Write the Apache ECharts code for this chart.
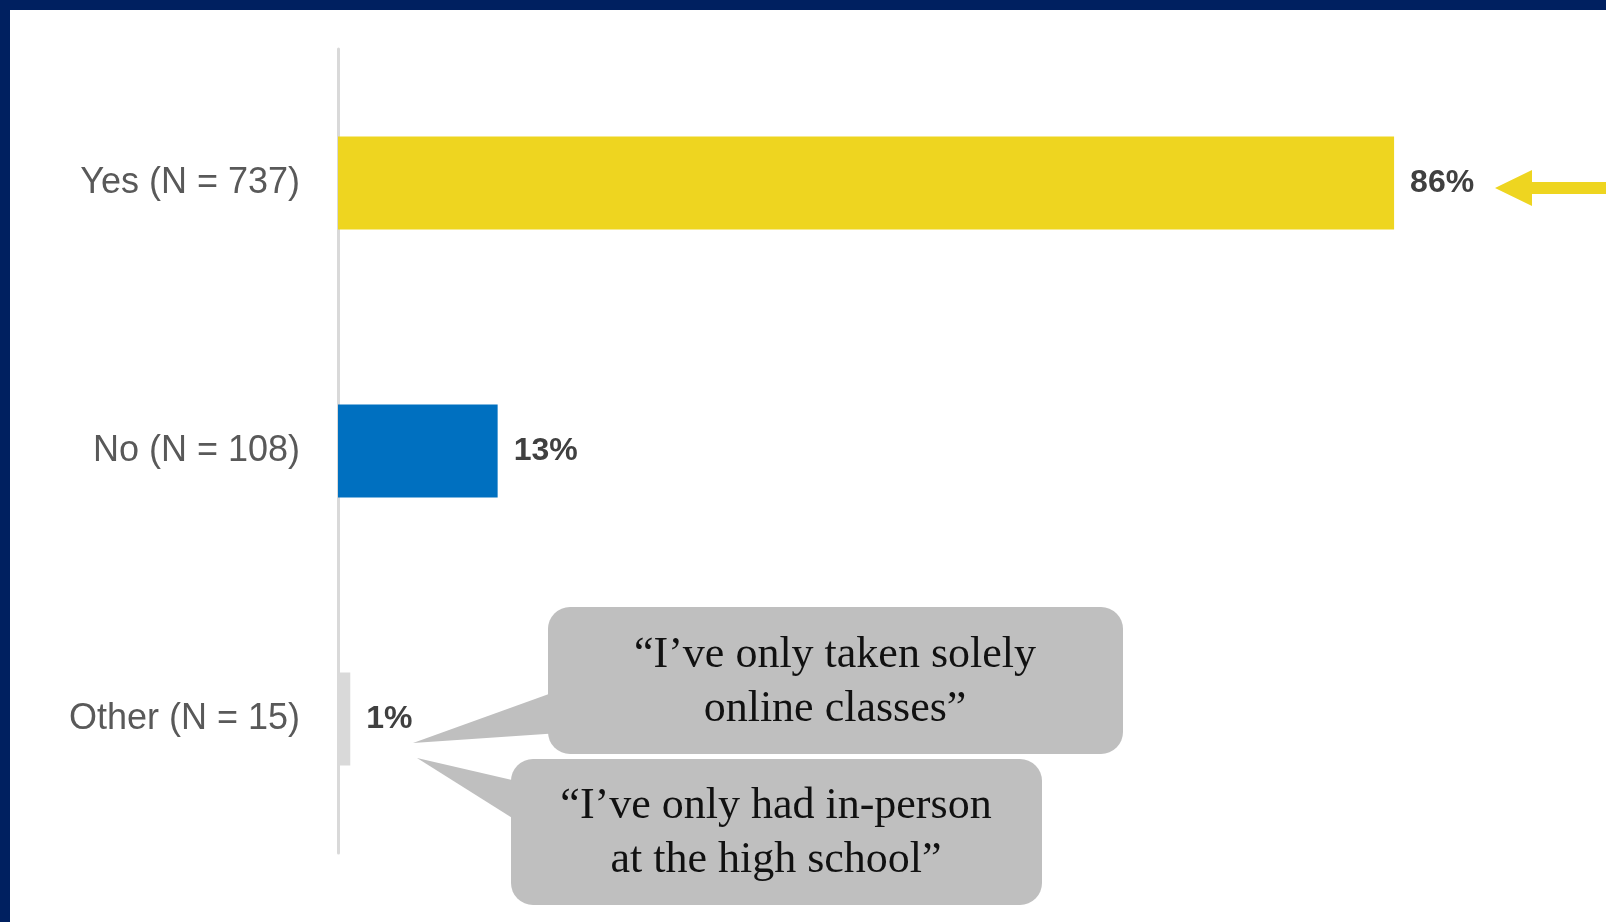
<!DOCTYPE html>
<html>
<head>
<meta charset="utf-8">
<script src="https://cdn.jsdelivr.net/npm/echarts@6/dist/echarts.min.js"></script>
<style>
  html, body { margin: 0; padding: 0; background: #ffffff; }
  #chart { width: 1606px; height: 922px; }
</style>
</head>
<body>
<div id="chart"></div>
<script>
// ---- data ----
const categories = ['Yes (N = 737)', 'No (N = 108)', 'Other (N = 15)'];
const shares = [86, 13, 1];
const quoteOnline = ['\u201CI\u2019ve only taken solely', 'online classes\u201D'];
const quoteInPerson = ['\u201CI\u2019ve only had in-person', 'at the high school\u201D'];

// ---- styles ----
const barPalette = ['#EED520', '#0070C0', '#D9D9D9'];
const calloutFill = '#BFBFBF';
const serif = '"Liberation Serif", "Times New Roman", serif';

const chart = echarts.init(document.getElementById('chart'), null, { renderer: 'canvas' });

const option = {
  backgroundColor: '#ffffff',
  animation: false,
  grid: { left: 338, top: 49, width: 1228, height: 804 },
  xAxis: {
    type: 'value', min: 0, max: 100,
    show: false
  },
  yAxis: {
    type: 'category',
    inverse: true,
    data: categories,
    axisLine: { show: true, lineStyle: { color: '#D9D9D9', width: 3 } },
    axisTick: { show: false },
    axisLabel: {
      margin: 38,
      color: '#595959',
      fontFamily: '"Liberation Sans", Arial, sans-serif',
      fontSize: 36
    }
  },
  series: [{
    type: 'bar',
    data: shares,
    barWidth: 93,
    itemStyle: { color: p => barPalette[p.dataIndex] },
    label: {
      show: true,
      position: 'right',
      distance: 16,
      formatter: '{c}%',
      color: '#404040',
      fontFamily: '"Liberation Sans", Arial, sans-serif',
      fontWeight: 'bold',
      fontSize: 32
    }
  }],
  graphic: [
    // frame
    { type: 'rect', shape: { x: 0, y: 0, width: 1606, height: 10 }, style: { fill: '#002060' }, z: 100 },
    { type: 'rect', shape: { x: 0, y: 0, width: 10, height: 922 }, style: { fill: '#002060' }, z: 100 },
    // yellow arrow
    { type: 'polygon', shape: { points: [[1495, 188], [1532, 170], [1532, 182], [1606, 182], [1606, 194], [1532, 194], [1532, 206]] },
      style: { fill: '#EED520' }, z: 50 },
    // callout 1
    { type: 'polygon', shape: { points: [[413, 743], [560, 690], [560, 733]] }, style: { fill: calloutFill }, z: 50 },
    { type: 'rect', shape: { x: 548, y: 607, width: 575, height: 147, r: 22 }, style: { fill: calloutFill }, z: 50 },
    { type: 'text', style: { text: quoteOnline.join('\n'), x: 835, y: 682, textAlign: 'center', textVerticalAlign: 'middle',
      font: '44px ' + serif, fill: '#111111', lineHeight: 54 }, z: 51 },
    // callout 2
    { type: 'polygon', shape: { points: [[417, 758], [525, 783], [525, 826]] }, style: { fill: calloutFill }, z: 50 },
    { type: 'rect', shape: { x: 511, y: 759, width: 531, height: 146, r: 22 }, style: { fill: calloutFill }, z: 50 },
    { type: 'text', style: { text: quoteInPerson.join('\n'), x: 776, y: 833, textAlign: 'center', textVerticalAlign: 'middle',
      font: '44px ' + serif, fill: '#111111', lineHeight: 54 }, z: 51 }
  ]
};

chart.setOption(option);
</script>
</body>
</html>
